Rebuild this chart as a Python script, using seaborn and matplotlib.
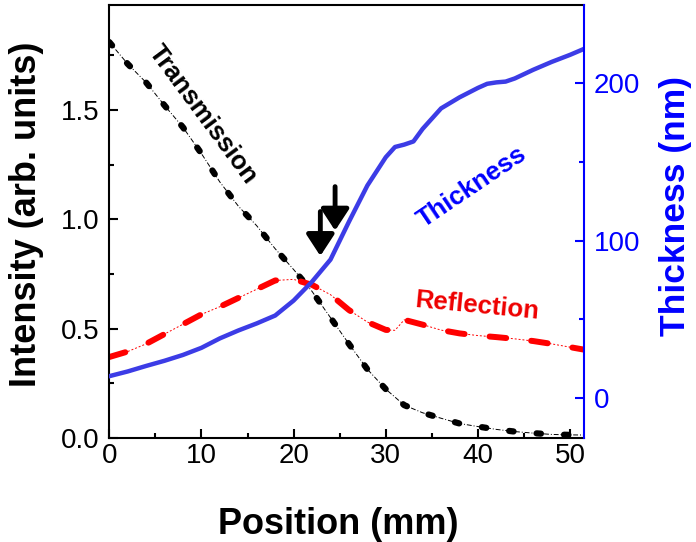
import pandas as pd
import seaborn as sns
import matplotlib.pyplot as plt
from matplotlib.ticker import MultipleLocator

# ------------------------------------------ Data ------------------------------------------

trans_pos = [0, 2, 4, 6, 8, 10, 12, 14, 16, 18, 20, 22, 24, 26, 28, 30, 32, 34, 36, 38,
             40, 42, 44, 46, 48, 50, 52]
transmission = [1.81, 1.71, 1.625, 1.52, 1.42, 1.30, 1.17, 1.06, 0.97, 0.865, 0.77, 0.67,
                0.55, 0.43, 0.314, 0.223, 0.15, 0.115, 0.09, 0.066, 0.052, 0.039, 0.029,
                0.022, 0.016, 0.014, 0.013]

refl_pos = [0, 2, 4, 6, 8, 10, 12, 14, 16, 18, 20, 22, 24, 26, 28, 30, 31, 32, 34, 36, 38,
            40, 42, 44, 46, 48, 50, 52]
reflection = [0.37, 0.395, 0.43, 0.475, 0.52, 0.565, 0.60, 0.64, 0.68, 0.72, 0.725, 0.70,
              0.655, 0.585, 0.53, 0.494, 0.492, 0.54, 0.518, 0.493, 0.478, 0.468, 0.461,
              0.453, 0.443, 0.43, 0.415, 0.40]

thick_pos = [0, 2, 4, 6, 8, 10, 12, 14, 16, 18, 20, 22, 24, 26, 28, 30, 31, 32, 33, 34, 36,
             38, 40, 41, 42, 43, 44, 46, 48, 50, 52]
thickness = [14, 17, 20.5, 23.8, 27.5, 32, 38, 43, 47.5, 52.5, 62, 74, 88, 112, 135, 153,
             159.5, 161, 163, 171, 184, 191, 197, 199.6, 200.5, 201, 203, 208.5, 213.5, 218, 223]

# arrows marking two positions (x, tail, tip) in intensity units
arrow_x = [22.9, 24.5]
arrow_top = [1.035, 1.149]
arrow_tip = [0.832, 0.948]

df_t = pd.DataFrame({"Position": trans_pos, "Transmission": transmission})
df_r = pd.DataFrame({"Position": refl_pos, "Reflection": reflection})
df_h = pd.DataFrame({"Position": thick_pos, "Thickness": thickness})

# ---------------------------------------- Plot --------------------------------------------

plt.rcParams["font.family"] = ["Liberation Sans", "DejaVu Sans"]

fig = plt.figure(figsize=(6.96, 5.42), dpi=100)
ax = fig.add_axes([0.157, 0.192, 0.682, 0.799])

# transmission: thin dash-dot line + thick dots
sns.lineplot(data=df_t, x="Position", y="Transmission", ax=ax, color="black",
             lw=0.7, linestyle=(0, (5, 2, 1, 2)))
sns.lineplot(data=df_t, x="Position", y="Transmission", ax=ax, color="black",
             lw=4.5, linestyle=(0, (0.7, 3.7)), dash_capstyle="round")

# reflection: thin dotted line + thick dashes
sns.lineplot(data=df_r, x="Position", y="Reflection", ax=ax, color="red",
             lw=0.7, linestyle=(0, (2, 2)))
sns.lineplot(data=df_r, x="Position", y="Reflection", ax=ax, color="red",
             lw=4.3, linestyle=(0, (2.8, 4.2)), dash_capstyle="round")

ax.set_xlim(0, 51.5)
ax.set_ylim(0, 1.98)
ax.xaxis.set_major_locator(MultipleLocator(10))
ax.xaxis.set_minor_locator(MultipleLocator(5))
ax.yaxis.set_major_locator(MultipleLocator(0.5))
ax.yaxis.set_minor_locator(MultipleLocator(0.25))
ax.tick_params(which="both", direction="in", width=1.5, labelsize=20)
ax.tick_params(which="major", length=6.5)
ax.tick_params(which="minor", length=3.5)
ax.tick_params(axis="y", pad=7)
ax.tick_params(axis="x", pad=4)
for s in ax.spines.values():
    s.set_linewidth(1.5)
ax.spines["right"].set_visible(False)

ax.set_xlabel("Position (mm)", fontsize=26, fontweight="bold")
ax.set_ylabel("Intensity (arb. units)", fontsize=26, fontweight="bold")
ax.xaxis.set_label_coords(0.483, -0.16)
ax.yaxis.set_label_coords(-0.138, 0.517)

for x0, y0, y1 in zip(arrow_x, arrow_top, arrow_tip):
    ax.annotate("", xy=(x0, y1), xytext=(x0, y0),
                arrowprops=dict(arrowstyle="-|>,head_width=0.85,head_length=1.3",
                                lw=3.5, color="black", shrinkA=0, shrinkB=0,
                                mutation_scale=10))

ax.text(10.17, 1.477, "Transmission", fontsize=18.5, fontweight="bold", color="black",
        rotation=-53.5, ha="center", va="center", rotation_mode="anchor")
ax.text(39.9, 0.604, "Reflection", fontsize=18.5, fontweight="bold", color="#ee0000",
        rotation=-5.5, ha="center", va="center", rotation_mode="anchor")

# thickness on right axis
ax2 = ax.twinx()
sns.lineplot(data=df_h, x="Position", y="Thickness", ax=ax2, color="#3c3ce6", lw=3.2)
ax2.set_ylim(-25.2, 249.7)
ax2.yaxis.set_major_locator(MultipleLocator(100))
ax2.yaxis.set_minor_locator(MultipleLocator(50))
ax2.tick_params(axis="y", which="both", direction="in", width=1.5, labelsize=20,
                colors="blue", pad=7)
ax2.tick_params(axis="y", which="major", length=6.5)
ax2.tick_params(axis="y", which="minor", length=3.5)
for side in ["left", "top", "bottom"]:
    ax2.spines[side].set_visible(False)
ax2.spines["right"].set_color("blue")
ax2.spines["right"].set_linewidth(1.5)
ax2.set_ylabel("Thickness (nm)", fontsize=25.5, fontweight="bold", color="blue")
ax2.yaxis.set_label_coords(1.158, 0.535)
ax2.set_xlabel("")
ax2.text(39.35, 134, "Thickness", fontsize=18.5, fontweight="bold", color="blue",
         rotation=34, ha="center", va="center", rotation_mode="anchor",
         transform=ax2.transData)

fig.savefig("out.png", dpi=100)
